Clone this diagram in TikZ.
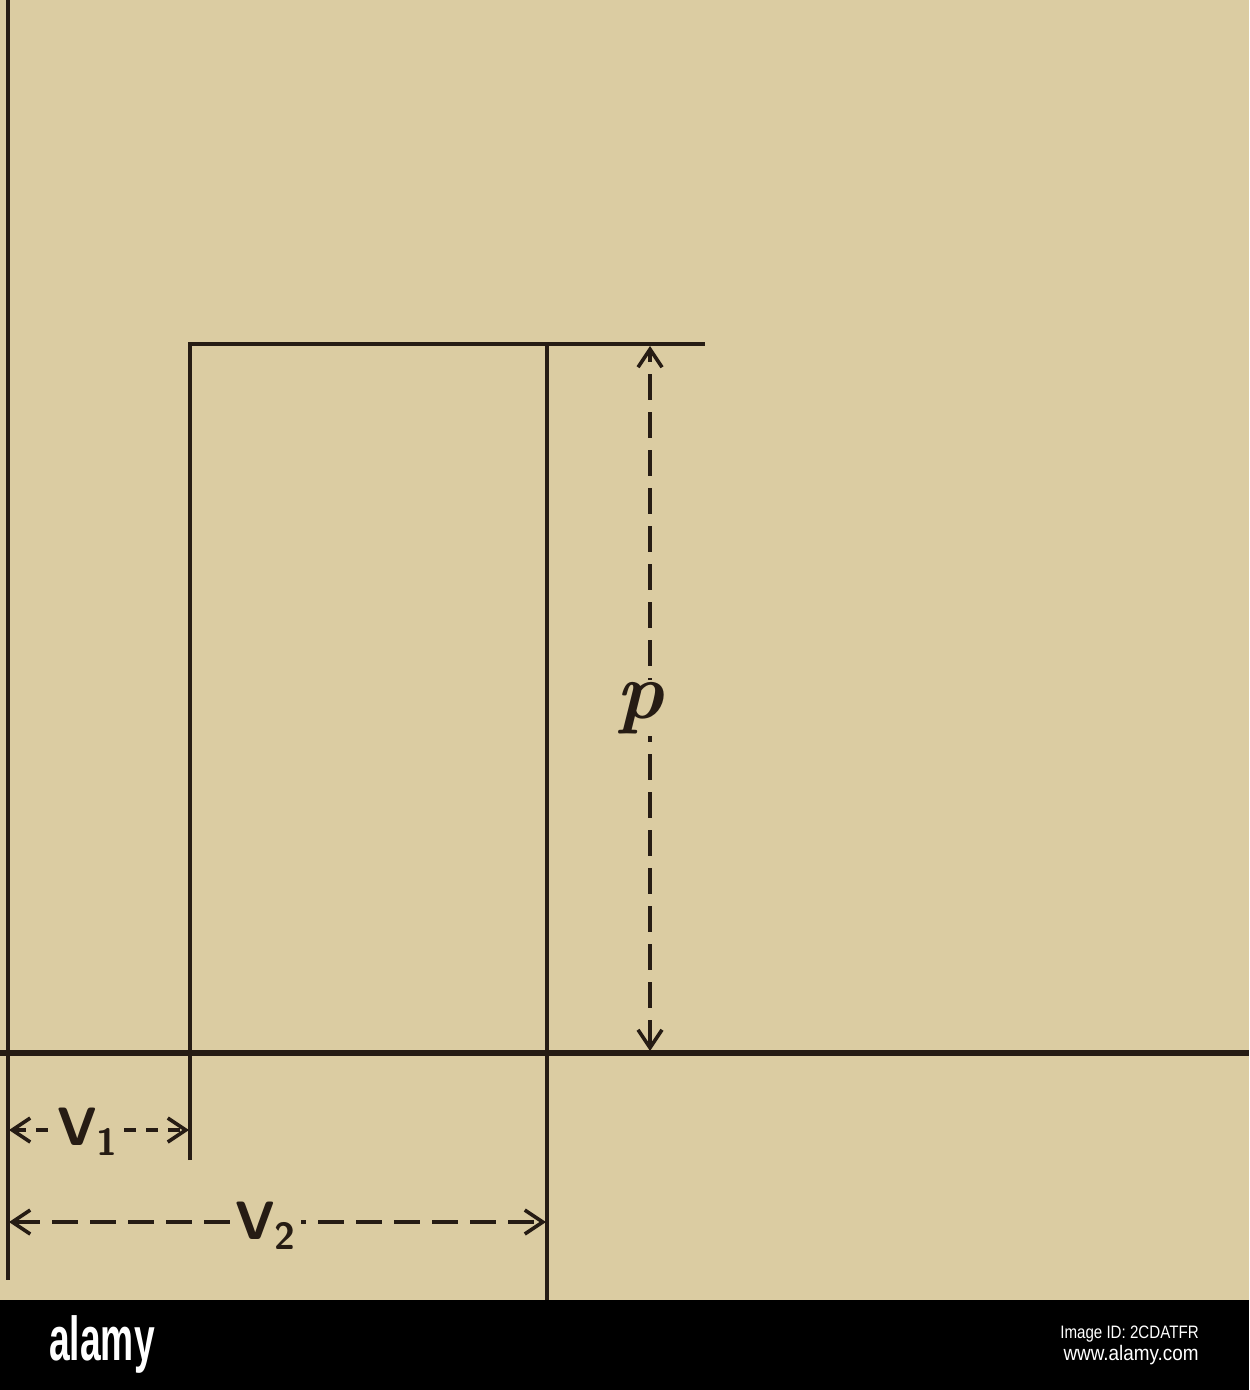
\documentclass[tikz,border=0pt]{standalone}
\usepackage{fontspec}
\usetikzlibrary{arrows.meta}
\newfontfamily\bandfont{Liberation Sans}
\definecolor{paper}{RGB}{219,204,162}
\definecolor{ink}{RGB}{38,28,20}
\begin{document}
\begin{tikzpicture}[x=0.5pt,y=-0.5pt,
  solidline/.style={draw=ink,line width=2pt},
  dimline/.style={draw=ink,line width=1.6pt,dash pattern=on 13pt off 6pt,
    arrows={Straight Barb[length=9pt,width=12pt,line width=1.8pt]-Straight Barb[length=9pt,width=12pt,line width=1.8pt]}},
  dimlabel/.style={fill=paper,text=ink,inner sep=2pt,font=\sffamily\bfseries\fontsize{27}{29}\selectfont},
  bandtext/.style={text=white,inner sep=0pt}]
\fill[paper] (0,0) rectangle (1249,1300);
\fill[black] (0,1300) rectangle (1249,1390);
\useasboundingbox (0,0) rectangle (1249,1390);
% coordinates
\coordinate (Otop) at (8,0);
\coordinate (Obot) at (8,1280);
\coordinate (Xl) at (0,1053);
\coordinate (Xr) at (1249,1053);
\coordinate (A) at (190,344);
\coordinate (B) at (547,344);
\coordinate (T) at (705,344);
\coordinate (Cb) at (190,1160);
\coordinate (Db) at (547,1300);
\coordinate (P1) at (650,346);
\coordinate (P2) at (650,1051);
\coordinate (V1a) at (9,1130);
\coordinate (V1b) at (189,1130);
\coordinate (V2a) at (9,1222);
\coordinate (V2b) at (546,1222);
% axes
\draw[solidline] (Otop) -- (Obot);
\draw[solidline,line width=2.6pt] (Xl) -- (Xr);
% rectangle
\draw[solidline] (Cb) -- (A) -- (T);
\draw[solidline] (B) -- (Db);
% pressure dimension
\draw[dimline] (P2) -- (P1);
\node[fill=paper,text=ink,inner sep=1pt,font=\itshape\bfseries\fontsize{40}{42}\selectfont] (plab) at (640,708) {p};
% volume dimensions
\draw[dimline,dash pattern=on 6pt off 5pt] (V1a) -- (V1b);
\node[dimlabel] (v1lab) at (88,1132) {V\textsubscript{1}};
\draw[dimline] (V2a) -- (V2b);
\node[dimlabel] (v2lab) at (266,1226) {V\textsubscript{2}};
% bottom band
\node[bandtext,anchor=base west,font=\bandfont\bfseries\fontsize{31}{33}\selectfont,xscale=0.6] (logo) at (49,1360) {alamy};
\node[bandtext,anchor=base east,font=\bandfont\fontsize{9}{10}\selectfont,xscale=0.84] (imgid) at (1199,1338) {Image ID: 2CDATFR};
\node[bandtext,anchor=base east,font=\bandfont\fontsize{10.5}{12}\selectfont,xscale=0.9] (www) at (1199,1360) {www.alamy.com};
\end{tikzpicture}
\end{document}
